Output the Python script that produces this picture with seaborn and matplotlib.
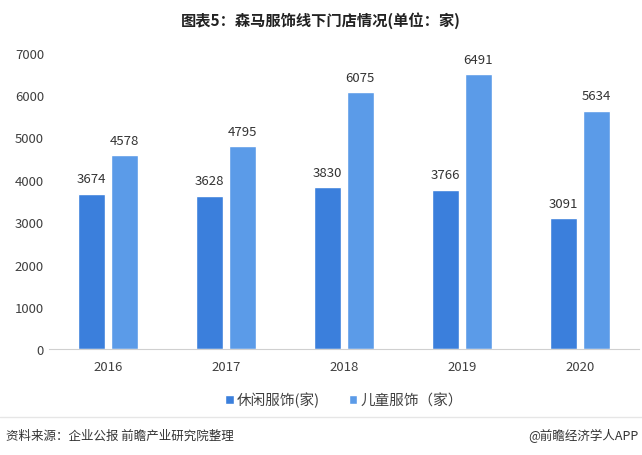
import pandas as pd
import matplotlib.pyplot as plt
import seaborn as sns

# data
years = ['2016', '2017', '2018', '2019', '2020']
casual = [3674, 3628, 3830, 3766, 3091]
kids = [4578, 4795, 6075, 6491, 5634]
series_names = ['休闲服饰(家)', '儿童服饰（家）']
colors = ['#3b7fdc', '#5b9be8']

df = pd.DataFrame({
    'year': years * 2,
    'value': casual + kids,
    'type': [series_names[0]] * len(years) + [series_names[1]] * len(years),
})

sns.set_style('white')
plt.rcParams['font.family'] = ['Noto Sans CJK SC', 'DejaVu Sans']

fig = plt.figure(figsize=(6.42, 4.56), dpi=100)
ax = fig.add_axes([0.076, 0.232, 0.919, 0.65])

sns.barplot(data=df, x='year', y='value', hue='type', palette=colors,
            saturation=1, width=0.56, gap=0.17, ax=ax, legend=True)

for cont in ax.containers:
    ax.bar_label(cont, padding=6, fontsize=9.5, color='#333333')

ax.set_ylim(0, 7000)
ax.set_yticks(range(0, 7001, 1000))
ax.set_xlabel('')
ax.set_ylabel('')
ax.tick_params(axis='both', length=0, labelsize=9.5, colors='#404040')
ax.tick_params(axis='x', pad=8)
for s in ['top', 'right', 'left']:
    ax.spines[s].set_visible(False)
ax.spines['bottom'].set_color('#d0d0d0')

ax.legend(loc='upper center', bbox_to_anchor=(0.5, -0.1), ncol=2, frameon=False,
          fontsize=10.5, handlelength=0.6, handleheight=0.6, handletextpad=0.2,
          columnspacing=2.0, labelcolor='#404040')

fig.text(0.5, 0.955, '图表5：森马服饰线下门店情况(单位：家)', ha='center', va='center',
         fontsize=11, fontweight='bold', color='#222222')

fig.add_artist(plt.Line2D([0, 1], [0.083, 0.083], color='#e6e6e6', lw=1))
fig.text(0.01, 0.043, '资料来源：企业公报 前瞻产业研究院整理', ha='left', va='center',
         fontsize=9, color='#333333')
fig.text(0.995, 0.043, '@前瞻经济学人APP', ha='right', va='center',
         fontsize=9, color='#333333')

plt.savefig('out.png', dpi=100)
